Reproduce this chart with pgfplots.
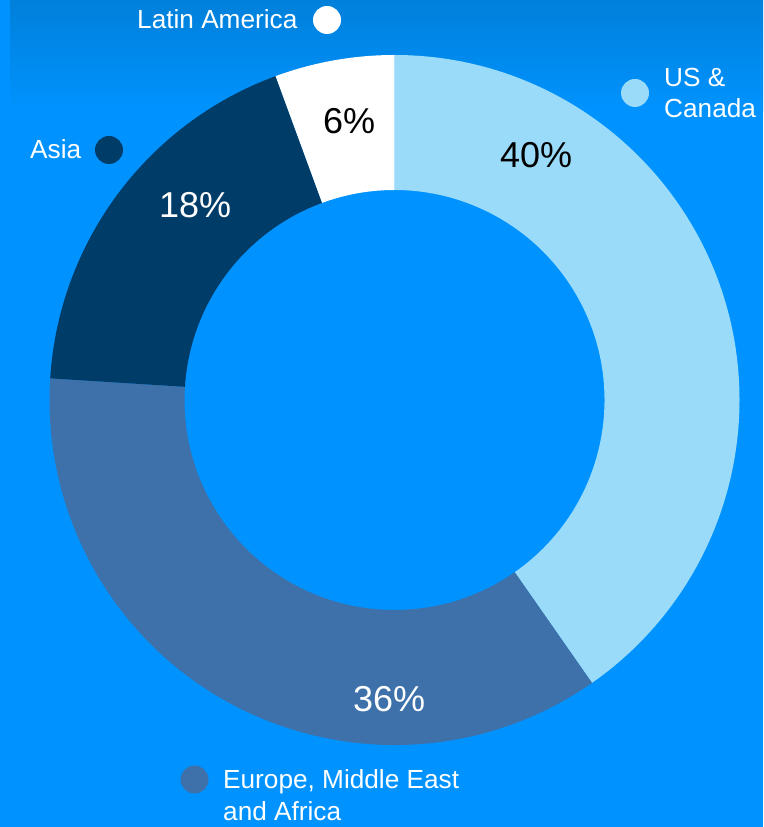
\documentclass[border=0pt]{standalone}
\usepackage{fontspec}
\setmainfont{Liberation Sans}
\usepackage{pgfplots}
\usepackage{pgfplotstable}
\pgfplotsset{compat=1.18}

\definecolor{bgblue}{HTML}{0093FF}
\definecolor{topblue}{HTML}{0080DA}
\definecolor{uscol}{HTML}{99DBF8}
\definecolor{emeacol}{HTML}{3E71AA}
\definecolor{asiacol}{HTML}{003C68}
\definecolor{latcol}{HTML}{FFFFFF}

% share by region, clockwise from the top (read off the ring)
\pgfplotstableread{
region value
US     40.3
EMEA   35.7
Asia   18.4
LatAm  5.6
}\regions

\pgfplotstablegetelem{0}{value}\of\regions \let\vUS\pgfplotsretval
\pgfplotstablegetelem{1}{value}\of\regions \let\vEM\pgfplotsretval
\pgfplotstablegetelem{2}{value}\of\regions \let\vAS\pgfplotsretval
\pgfplotstablegetelem{3}{value}\of\regions \let\vLA\pgfplotsretval

% cumulative angles (degrees)
\pgfmathsetmacro\aA{90}
\pgfmathsetmacro\aB{\aA-3.6*\vUS}
\pgfmathsetmacro\aC{\aB-3.6*\vEM}
\pgfmathsetmacro\aD{\aC-3.6*\vAS}
\pgfmathsetmacro\aE{\aD-3.6*\vLA}

\def\Ro{345}
\def\Ri{210}
\def\cen{axis cs:394.5,427}

\newcommand{\sector}[3]{%
  \fill[#3] ([shift={(#1:\Ro pt)}]\cen) arc[start angle=#1, end angle=#2, radius=\Ro pt]
    -- ([shift={(#2:\Ri pt)}]\cen) arc[start angle=#2, end angle=#1, radius=\Ri pt] -- cycle;}
\newcommand{\pct}[1]{\pgfmathprintnumber[fixed, precision=0, assume math mode=true]{#1}\%}

\begin{document}
\begin{tikzpicture}
\begin{axis}[
  width=763pt, height=827pt, scale only axis,
  xmin=0, xmax=763, ymin=0, ymax=827,
  hide axis, clip=true,
]
\fill[bgblue] (axis cs:0,0) rectangle (axis cs:763,827);
\shade[top color=topblue, bottom color=bgblue] (axis cs:10,827) rectangle (axis cs:763,715);

\sector{\aA}{\aB}{uscol}
\sector{\aB}{\aC}{emeacol}
\sector{\aC}{\aD}{asiacol}
\sector{\aD}{\aE}{latcol}

% percentage labels
\begin{scope}[every node/.style={anchor=base west, inner sep=0, font=\fontsize{36}{40}\selectfont}]
\node[text=black] at (axis cs:500,659) {\pct{\vUS}};
\node[text=white] at (axis cs:353,115) {\pct{\vEM}};
\node[text=white] at (axis cs:159,609) {\pct{\vAS}};
\node[text=black] at (axis cs:323,693) {\pct{\vLA}};
\end{scope}

% legend
\begin{scope}[every node/.style={anchor=base west, inner sep=0, text=white, font=\fontsize{26.2}{30}\selectfont}]
\fill[latcol] (axis cs:327,807) circle[radius=14pt];
\node at (axis cs:137,798) {Latin America};
\fill[uscol] (axis cs:635,734) circle[radius=14pt];
\node at (axis cs:664,740) {US \&};
\node at (axis cs:664,709) {Canada};
\fill[asiacol] (axis cs:109,677) circle[radius=14pt];
\node at (axis cs:30,668) {Asia};
\fill[emeacol] (axis cs:194.5,47.5) circle[radius=14pt];
\node at (axis cs:223,38) {Europe, Middle East};
\node at (axis cs:223,6) {and Africa};
\end{scope}
\end{axis}
\end{tikzpicture}
\end{document}
